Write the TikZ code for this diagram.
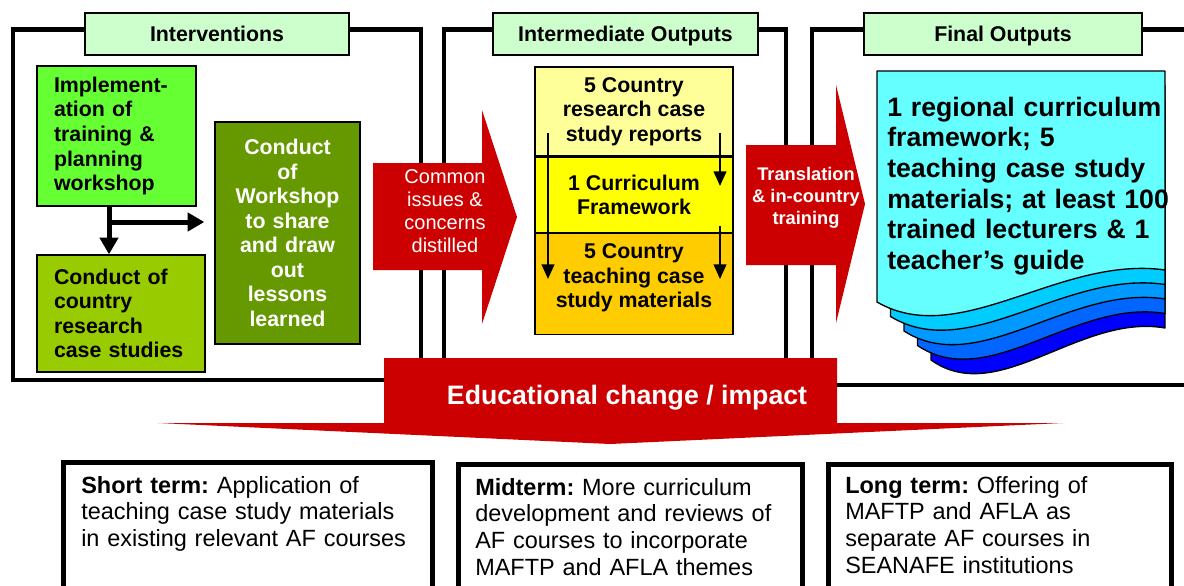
\documentclass[tikz,border=0pt]{standalone}
\usepackage{fontspec}
\setmainfont{Liberation Sans}
\usetikzlibrary{arrows.meta, positioning}

% one unit = one pixel of the slide
\newlength{\unitpx}
\setlength{\unitpx}{0.75pt}

\definecolor{headgreen}{HTML}{CCFFCC}
\definecolor{limegreen}{HTML}{66FF33}
\definecolor{olivegreen}{HTML}{99CC00}
\definecolor{darkolive}{HTML}{669900}
\definecolor{paleyellow}{HTML}{FFFF99}
\definecolor{brightyellow}{HTML}{FFFF00}
\definecolor{amber}{HTML}{FFCC00}
\definecolor{impactred}{HTML}{CC0000}
\definecolor{pagecyan}{HTML}{66FFFF}
\definecolor{pageblueA}{HTML}{00CCFF}
\definecolor{pageblueB}{HTML}{0099FF}
\definecolor{pageblueC}{HTML}{0066FF}
\definecolor{pageblueD}{HTML}{0000FF}

\frenchspacing

\begin{document}
\begin{tikzpicture}[x=\unitpx, y=-\unitpx,
    frame/.style={draw, line width=3.4pt},
    header/.style={draw, fill=headgreen, line width=1pt, minimum height={42*\unitpx}, inner sep=0pt,
      text depth=0pt, font=\fontsize{16}{18.4}\selectfont\bfseries},
    greenbox/.style={draw, line width=1pt, inner sep=0pt, font=\fontsize{16}{18.4}\selectfont\bfseries},
    stackbox/.style={draw, line width=1pt, minimum width={198*\unitpx}, inner sep=0pt, align=center,
      font=\fontsize{16}{18.4}\selectfont\bfseries},
    fatarrow/.style={line width=3.75pt, -{Triangle[length=12.5pt, width=13.5pt]}},
    thinarrow/.style={line width=1.5pt, -{Triangle[length=11pt, width=9.5pt]}},
    blockarrow/.style={fill=impactred, draw=none},
    arrowtext/.style={text=white, align=center, inner sep=0pt},
    pagestack/.style={draw, line width=1pt, line join=round},
    termbox/.style={draw, line width=3.75pt, anchor=north west, inner sep=0pt},
    termtext/.style={anchor=base west, align=left, inner sep=0pt, text width={345*\unitpx},
      font=\fontsize{17.6}{20}\selectfont}]

  \useasboundingbox (0,0) rectangle (1184,585);
  \clip (0,0) rectangle (1184,585);

  % Frames
  \draw[frame] (13,29.5) rectangle (421,380);
  \draw[frame] (444,29.5) rectangle (786,380);
  \draw[frame] (812,29.5) rectangle (1200,385);

  % Headers
  \node[header, minimum width={264*\unitpx}] (interv) at (217,34) {Interventions};
  \node[header, minimum width={265*\unitpx}] (interm) at (625.5,34) {Intermediate Outputs};
  \node[header, minimum width={278*\unitpx}] (final) at (1003,34) {Final Outputs};

  % Interventions
  \node[greenbox, fill=limegreen, minimum width={159*\unitpx}, minimum height={140*\unitpx},
    text width={125*\unitpx}, align=left] (impl) at (116.5,136)
    {Implement-\\ation of\\training \&\\planning\\workshop};
  \node[greenbox, fill=olivegreen, minimum width={168*\unitpx}, minimum height={117*\unitpx},
    text width={134*\unitpx}, align=left] (country) at (121,313.5)
    {Conduct of\\country\\research\\case studies};
  \node[greenbox, fill=darkolive, text=white, minimum width={145*\unitpx}, minimum height={222*\unitpx},
    text width={125*\unitpx}, align=center] (workshop) at (287.5,233)
    {Conduct\\of\\Workshop\\to share\\and draw\\out\\lessons\\learned};
  \coordinate (split) at (109,222);
  \draw[fatarrow] (split |- impl.south) -- (split |- country.north);
  \draw[fatarrow, shorten >={10*\unitpx}] (split) -- (split -| workshop.west);

  % Intermediate outputs
  \node[stackbox, fill=paleyellow, minimum height={89*\unitpx}] (reports) at (634,111.5)
    {5 Country\\research case\\study reports};
  \node[stackbox, fill=brightyellow, minimum height={75*\unitpx}, below=0pt of reports] (framework)
    {1 Curriculum\\Framework};
  \node[stackbox, fill=amber, minimum height={101*\unitpx}, below=0pt of framework] (materials) {};
  \node[stackbox, draw=none, minimum height=0pt] (materialstext) at ([yshift={6*\unitpx}]materials.center)
    {5 Country\\teaching case\\study materials};
  \coordinate (leftfrom) at (548,133);
  \coordinate (leftto) at (548,279);
  \coordinate (rightfromA) at (720,133);
  \coordinate (righttoA) at (720,186);
  \coordinate (rightfromB) at (720,226);
  \coordinate (righttoB) at (720,279);
  \draw[thinarrow] (leftfrom) -- (leftto);
  \draw[thinarrow] (rightfromA) -- (righttoA);
  \draw[thinarrow] (rightfromB) -- (righttoB);

  % Final outputs: stack of pages
  \foreach \k/\col in {4/pageblueD, 3/pageblueC, 2/pageblueB, 1/pageblueA, 0/pagecyan}{
    \pgfmathsetmacro\dx{13.5*\k}
    \pgfmathsetmacro\dy{14.5*\k}
    \pgfmathsetmacro\w{288-\dx}
    \filldraw[pagestack, fill=\col] ({877+\dx},{71+\dy}) -- (1165,{71+\dy}) -- (1165,{270+\dy})
      .. controls ({1165-0.365*\w},{255+\dy}) and ({877+\dx+0.288*\w},{350+\dy}) .. ({877+\dx},{302+\dy})
      -- cycle;
  }
  \node[anchor=base west, align=left, inner sep=0pt, text width={290*\unitpx},
    font=\fontsize{20}{23}\selectfont\bfseries] (outputs) at (887,116)
    {1 regional curriculum\\framework; 5\\teaching case study\\materials; at least 100\\trained lecturers \& 1\\teacher’s guide};

  % Block arrows
  \fill[blockarrow] (373,163) -- (482,163) -- (482,110) -- (517,217) -- (482,324) -- (482,270) -- (373,270) -- cycle;
  \node[arrowtext, font=\fontsize{15}{17.1}\selectfont] (distil) at (445,211)
    {Common\\issues \&\\concerns\\distilled};
  \fill[blockarrow] (746,145) -- (836,145) -- (836,85) -- (865,204) -- (836,323) -- (836,265) -- (746,265) -- cycle;
  \node[arrowtext, font=\fontsize{13.7}{16.5}\selectfont\bfseries] (transl) at (806,198)
    {Translation\\\& in-country\\training};
  \fill[blockarrow] (384,358) -- (837,358) -- (837,423) -- (1063,423) -- (610,444) -- (158,423) -- (384,423) -- cycle;
  \node[arrowtext, font=\fontsize{20}{23}\selectfont\bfseries] (impact) at (627,398) {Educational change / impact};

  % Impact terms
  \node[termbox, minimum width={369*\unitpx}, minimum height={150*\unitpx}] (shortterm) at (61,460) {};
  \node[termbox, minimum width={344*\unitpx}, minimum height={150*\unitpx}] (midterm) at (456,462) {};
  \node[termbox, minimum width={343*\unitpx}, minimum height={150*\unitpx}] (longterm) at (826,462) {};
  \node[termtext] (shorttext) at (81,493)
    {\textbf{Short term:} Application of\\teaching case study materials\\in existing relevant AF courses};
  \node[termtext] (midtext) at (475,495)
    {\textbf{Midterm:} More curriculum\\development and reviews of\\AF courses to incorporate\\MAFTP and AFLA themes};
  \node[termtext] (longtext) at (845,493)
    {\textbf{Long term:} Offering of\\MAFTP and AFLA as\\separate AF courses in\\SEANAFE institutions};
\end{tikzpicture}
\end{document}
